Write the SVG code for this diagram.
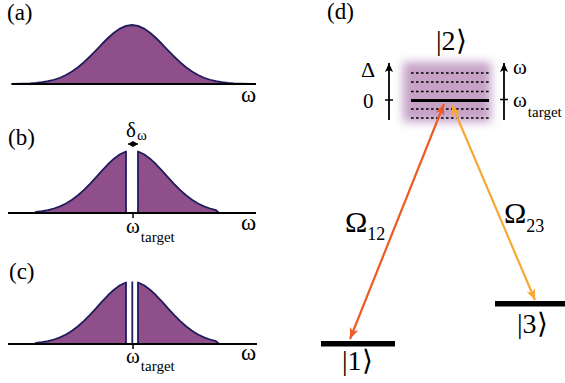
<svg xmlns="http://www.w3.org/2000/svg" width="565" height="383" viewBox="0 0 565 383">
<style>
text{font-family:'Liberation Serif','Times New Roman',serif;fill:#000}
.lbl{font-size:23px}
.w{font-size:23px}
.wt{font-size:21px}
.sub{font-size:15px}
.curve{fill:#8e4f8a;stroke:#201c5c;stroke-width:1.8;stroke-linejoin:round}
.base{stroke:#000;stroke-width:1.8;fill:none}
.tick{stroke:#000;stroke-width:1.5}
.dot{stroke:#000;stroke-width:1.6;stroke-dasharray:2.6 2.4;fill:none}
.axis{stroke:#000;stroke-width:1.8;fill:none}
.ket{font-size:28px}
.om{font-size:30px}
.omsub{font-size:18px}
</style>
<defs>
<filter id="blur" x="-30%" y="-30%" width="160%" height="160%"><feGaussianBlur stdDeviation="5"/></filter>
<marker id="ah" markerUnits="userSpaceOnUse" markerWidth="10" markerHeight="9" refX="9" refY="4" orient="auto"><path d="M0,0 L9,4 L0,8 L2,4 z" fill="#000"/></marker>
<marker id="sh" markerUnits="userSpaceOnUse" markerWidth="6" markerHeight="6" refX="5" refY="3" orient="auto-start-reverse"><path d="M0,0 L5,3 L0,6 z" fill="#000"/></marker>
<marker id="red" markerUnits="userSpaceOnUse" markerWidth="12" markerHeight="10" refX="11" refY="4.5" orient="auto-start-reverse"><path d="M0,0 L11,4.5 L0,9 L3,4.5 z" fill="#ee5a26"/></marker>
<marker id="org" markerUnits="userSpaceOnUse" markerWidth="12" markerHeight="10" refX="11" refY="4.5" orient="auto-start-reverse"><path d="M0,0 L11,4.5 L0,9 L3,4.5 z" fill="#f7a833"/></marker>
</defs>

<g id="panel-a">
<text class="lbl" x="7" y="20">(a)</text>
<path class="curve" d="M12,84 L24,83.62 L30,83.35 L36,82.9 L42,82.22 L48,81.21 L54,79.75 L60,77.73 L66,75.03 L72,71.56 L78,67.29 L84,62.22 L90,56.49 L96,50.32 L102,44.01 L108,38.01 L114,32.71 L120,28.56 L126,25.91 L132,25 L138,25.91 L144,28.56 L150,32.71 L156,38.01 L162,44.01 L168,50.32 L174,56.49 L180,62.22 L186,67.29 L192,71.56 L198,75.03 L204,77.73 L210,79.75 L216,81.21 L222,82.22 L228,82.9 L234,83.35 L240,83.62 L252,84 Z"/>
<line class="base" x1="12" y1="84" x2="256" y2="84"/>
<text class="w" x="241" y="102">ω</text>
</g>

<g id="panel-b">
<text class="lbl" x="8" y="145">(b)</text>
<path class="curve" d="M35,213 L36,211.84 L42,211.12 L48,210.04 L54,208.5 L60,206.36 L66,203.5 L72,199.82 L78,195.29 L84,189.93 L90,183.86 L96,177.32 L102,170.65 L108,164.28 L114,158.67 L120,154.27 L126,151.46 L126,213 Z"/>
<path class="curve" d="M138,213 L138,151.46 L144,154.27 L150,158.67 L156,164.28 L162,170.65 L168,177.32 L174,183.86 L180,189.93 L186,195.29 L192,199.82 L198,203.5 L204,206.36 L210,208.5 L216,210.04 L219,213 Z"/>
<line class="base" x1="8" y1="213" x2="256" y2="213"/>
<line class="tick" x1="133" y1="213" x2="133" y2="218"/>
<text class="wt" x="126" y="137">δ<tspan class="sub" dx="1" dy="3">ω</tspan></text>
<line x1="128" y1="144" x2="138" y2="144" stroke="#000" stroke-width="1.3" marker-start="url(#sh)" marker-end="url(#sh)"/>
<text class="w" x="241" y="230">ω</text>
<text class="wt" x="126" y="233">ω<tspan class="sub" dx="1" dy="9">target</tspan></text>
</g>

<g id="panel-c">
<text class="lbl" x="9" y="279">(c)</text>
<path class="curve" d="M35,344 L36,342.84 L42,342.12 L48,341.04 L54,339.5 L60,337.36 L66,334.5 L72,330.82 L78,326.29 L84,320.93 L90,314.86 L96,308.32 L102,301.65 L108,295.28 L114,289.67 L120,285.27 L126,282.46 L126,344 Z"/>
<path class="curve" d="M138,344 L138,282.46 L144,285.27 L150,289.67 L156,295.28 L162,301.65 L168,308.32 L174,314.86 L180,320.93 L186,326.29 L192,330.82 L198,334.5 L204,337.36 L210,339.5 L216,341.04 L219,344 Z"/>
<line x1="132.3" y1="281.5" x2="132.3" y2="344" stroke="#201c5c" stroke-width="1.8"/>
<line class="base" x1="8" y1="344" x2="257" y2="344"/>
<line class="tick" x1="133" y1="344" x2="133" y2="349"/>
<text class="w" x="241" y="360">ω</text>
<text class="wt" x="126" y="363">ω<tspan class="sub" dx="1" dy="8">target</tspan></text>
</g>

<g id="panel-d">
<text class="lbl" x="327" y="19">(d)</text>
</g>

<g id="level-2">
<rect x="403" y="62" width="88" height="60" fill="#c6a2c7" filter="url(#blur)"/>
<line class="dot" x1="411" y1="73" x2="489" y2="73"/>
<line class="dot" x1="411" y1="82" x2="489" y2="82"/>
<line class="dot" x1="411" y1="91.5" x2="489" y2="91.5"/>
<line x1="411" y1="100.5" x2="489" y2="100.5" stroke="#000" stroke-width="3"/>
<line class="dot" x1="411" y1="109" x2="489" y2="109"/>
<line class="dot" x1="411" y1="118" x2="489" y2="118"/>
<text class="ket" x="436" y="50">|2⟩</text>
</g>

<g id="detuning-axis">
<line class="axis" x1="389" y1="120" x2="389" y2="63" marker-end="url(#ah)"/>
<line class="tick" x1="385" y1="100" x2="393" y2="100"/>
<text x="361" y="77" font-size="22">Δ</text>
<text x="363" y="108" font-size="21">0</text>
</g>

<g id="frequency-axis">
<line class="axis" x1="504" y1="120" x2="504" y2="63" marker-end="url(#ah)"/>
<line class="tick" x1="500" y1="99.5" x2="508" y2="99.5"/>
<text class="wt" x="513" y="74">ω</text>
<text class="wt" x="513" y="107">ω<tspan class="sub" dx="1" dy="10">target</tspan></text>
</g>

<g id="level-1">
<rect x="321" y="341" width="74" height="5.5" fill="#000"/>
<text class="ket" x="342" y="370">|1⟩</text>
</g>

<g id="level-3">
<rect x="495" y="301" width="70" height="5.5" fill="#000"/>
<text class="ket" x="517" y="333">|3⟩</text>
</g>

<g id="connectors">
<line x1="444" y1="104" x2="350" y2="339" stroke="#ee5a26" stroke-width="2.2" marker-start="url(#red)" marker-end="url(#red)"/>
<line x1="452" y1="105" x2="535" y2="300" stroke="#f7a833" stroke-width="2.2" marker-start="url(#org)" marker-end="url(#org)"/>
<text class="om" x="345" y="232">Ω<tspan class="omsub" dx="0" dy="8">12</tspan></text>
<text class="om" x="504" y="223">Ω<tspan class="omsub" dx="0" dy="9">23</tspan></text>
</g>
</svg>
